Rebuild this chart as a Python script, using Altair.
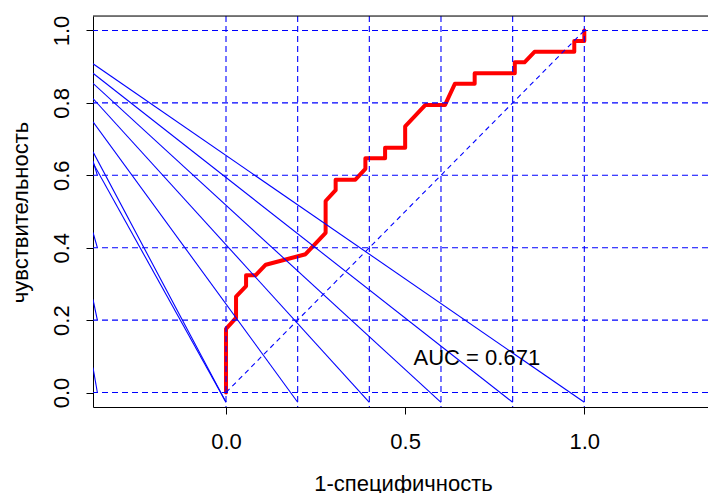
import altair as alt
import pandas as pd

# ROC curve vertices (1-specificity, sensitivity)
roc_fpr = [0.0, 0.0, 0.028, 0.028, 0.056, 0.056, 0.083, 0.111, 0.222, 0.278, 0.278,
           0.306, 0.306, 0.361, 0.389, 0.389, 0.444, 0.444, 0.5, 0.5, 0.556, 0.611,
           0.639, 0.694, 0.694, 0.806, 0.806, 0.833, 0.861, 0.972, 0.972, 1.0, 1.0]
roc_tpr = [0.0, 0.176, 0.206, 0.265, 0.294, 0.324, 0.324, 0.353, 0.382, 0.441, 0.529,
           0.559, 0.588, 0.588, 0.618, 0.647, 0.647, 0.676, 0.676, 0.735, 0.794, 0.794,
           0.853, 0.853, 0.882, 0.882, 0.912, 0.912, 0.941, 0.941, 0.971, 0.971, 1.0]

# straight blue lines (start at left edge, end lower right)
iso_start_x = [-0.3712] * 11
iso_start_y = [0.908, 0.882, 0.854, 0.812, 0.748, 0.665, 0.634, 0.640, 0.442, 0.257, 0.069]
iso_end_x = [1.0, 0.8, 0.6, 0.4, 0.2, 0.0, 0.0, -0.359, -0.359, -0.359, -0.359]
iso_end_y = [-0.027, -0.027, -0.027, -0.027, -0.027, -0.027, -0.027, 0.6, 0.4, 0.2, 0.0]

grid_vals = [0.0, 0.2, 0.4, 0.6, 0.8, 1.0]
x_ticks = [0.0, 0.5, 1.0]
y_ticks = [0.0, 0.2, 0.4, 0.6, 0.8, 1.0]
diag_x = [0.0, 1.0]
diag_y = [0.0, 1.0]
auc_label = "AUC = 0.671"
auc_pos = (0.7, 0.1)

FONT = "Liberation Sans"
W, H = 615, 391
xs = alt.Scale(domain=[-0.3712, 1.3452], nice=False, zero=False)
ys = alt.Scale(domain=[-0.04, 1.04], nice=False, zero=False)

roc_df = pd.DataFrame({"x": roc_fpr, "y": roc_tpr, "o": list(range(len(roc_fpr)))})
iso_df = pd.DataFrame({"x": iso_start_x, "y": iso_start_y, "x2": iso_end_x, "y2": iso_end_y})
grid_df = pd.DataFrame({"v": grid_vals})
diag_df = pd.DataFrame({"x": [diag_x[0]], "y": [diag_y[0]], "x2": [diag_x[1]], "y2": [diag_y[1]]})
auc_df = pd.DataFrame({"x": [auc_pos[0]], "y": [auc_pos[1]], "t": [auc_label]})

x_axis = alt.Axis(
    values=x_ticks, format=".1f", title="1-специфичность", grid=False,
    tickSize=7, tickColor="black", tickWidth=1, domainColor="black", domainWidth=1,
    labelFont=FONT, labelFontSize=22, labelColor="black", labelPadding=17,
    labelFlush=False, labelOverlap=False,
    titleFont=FONT, titleFontSize=22, titleFontWeight="normal", titleColor="black",
    titleBaseline="alphabetic", titleAlign="center", titleX=310, titleY=83)
y_axis = alt.Axis(
    values=y_ticks, format=".1f", title="чувствительность", grid=False,
    tickSize=7, tickColor="black", tickWidth=1, domainColor="black", domainWidth=1,
    labelFont=FONT, labelFontSize=22, labelColor="black", labelPadding=13,
    labelAngle=270, labelAlign="center", labelBaseline="bottom",
    labelFlush=False, labelOverlap=False,
    titleFont=FONT, titleFontSize=22, titleFontWeight="normal", titleColor="black",
    titleAngle=270, titleBaseline="alphabetic", titleAlign="center", titleX=-66, titleY=196)

roc = alt.Chart(roc_df).mark_line(color="#FF0000", strokeWidth=4, strokeJoin="round", strokeCap="round").encode(
    x=alt.X("x:Q", scale=xs, axis=x_axis),
    y=alt.Y("y:Q", scale=ys, axis=y_axis),
    order="o:Q")

vgrid = alt.Chart(grid_df).mark_rule(color="#0000FF", strokeWidth=1.1, strokeDash=[6, 4]).encode(
    x=alt.X("v:Q", scale=xs))
hgrid = alt.Chart(grid_df).mark_rule(color="#0000FF", strokeWidth=1.1, strokeDash=[6, 4]).encode(
    y=alt.Y("v:Q", scale=ys))

iso = alt.Chart(iso_df).mark_rule(color="#0000FF", strokeWidth=1.1, clip=True).encode(
    x=alt.X("x:Q", scale=xs), y=alt.Y("y:Q", scale=ys),
    x2="x2:Q", y2="y2:Q")

diag = alt.Chart(diag_df).mark_rule(color="#0000FF", strokeWidth=1.1, strokeDash=[5, 4]).encode(
    x=alt.X("x:Q", scale=xs), y=alt.Y("y:Q", scale=ys),
    x2="x2:Q", y2="y2:Q")

auc = alt.Chart(auc_df).mark_text(font=FONT, fontSize=22, color="black", align="center",
                                  baseline="middle", dy=2).encode(
    x=alt.X("x:Q", scale=xs), y=alt.Y("y:Q", scale=ys), text="t:N")

top_border = alt.Chart(grid_df.head(1)).mark_rule(color="black", strokeWidth=1).encode(
    x=alt.value(0), x2=alt.value(W), y=alt.value(0))

chart = alt.layer(roc, vgrid, hgrid, iso, diag, auc, top_border).properties(
    width=W, height=H,
    padding={"left": 93, "top": 16, "right": 0, "bottom": 86},
    autosize=alt.AutoSizeParams(type="none"),
).configure_view(stroke=None).configure(background="white")

chart.save("out.html", embed_options={"renderer": "svg", "actions": False})
